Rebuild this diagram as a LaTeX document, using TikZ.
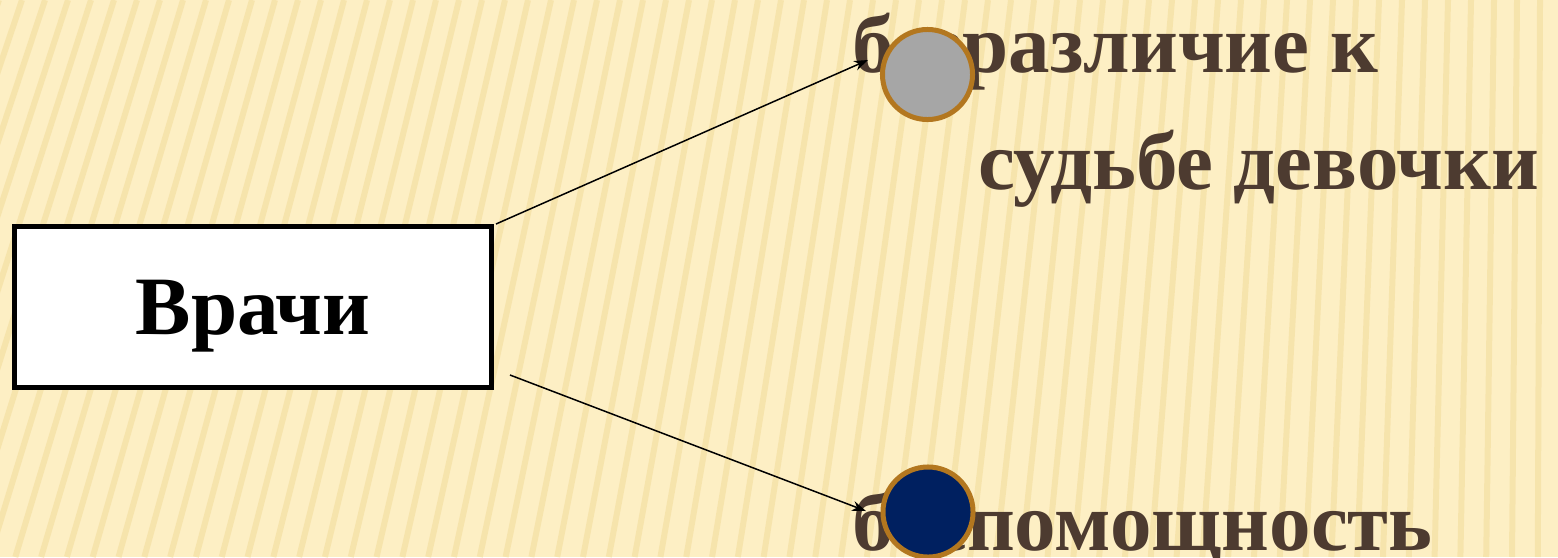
\documentclass[tikz,border=0pt]{standalone}
\usepackage{fontspec}
\setmainfont{Liberation Serif}
\usetikzlibrary{arrows.meta}

\definecolor{paper}{HTML}{FDEFC4}
\definecolor{stripe}{HTML}{F2DB9A}
\definecolor{brownText}{HTML}{4D3B30}
\definecolor{ringColor}{HTML}{B3771F}
\definecolor{greyDot}{HTML}{A6A6A6}
\definecolor{navyDot}{HTML}{002060}

\tikzset{
  label/.style={inner sep=0mm,outer sep=0mm,font=\fontsize{23.6}{33}\selectfont\bfseries,text=brownText},
  dot/.style={circle,inner sep=0mm,minimum size=0.9cm,line width=0.05cm,draw=ringColor}
}

\begin{document}
\begin{tikzpicture}[x=0.01cm,y=-0.01cm]
          \useasboundingbox (0,0) rectangle (1558,557);
          \fill [paper] (0,0) rectangle (1558,557);
          \begin{scope}
            \clip (0,0) rectangle (1558,557);
            \foreach \x in {-300,-277,...,1600} {
              \pgfmathsetmacro{\shift}{190*(1-\x/1558)}
              \draw [stripe,line width=0.06cm,opacity=0.55] (\x,0) -- (\x-\shift,557);
            }
          \end{scope}
          \node (doctors) [draw,line width=0.05cm,fill=white,rectangle,minimum width=4.77cm,minimum height=1.61cm,text height=0.55cm,text depth=0cm,font=\fontsize{23.6}{28}\selectfont\bfseries] at (253,307) {Врачи};
          \node (indifference) [label,anchor=base west,align=left] at (852,189) {безразличие к\\\hspace*{1.26cm}судьбе девочки};
          \node (helplessness) [label,anchor=base west] at (852,550) {беспомощность};
          \coordinate (upperStart) at (496,224);
          \coordinate (upperEnd) at (868,60);
          \coordinate (lowerStart) at (510,375);
          \coordinate (lowerEnd) at (866,511);
          \draw [-{Stealth[length=0.14cm,width=0.1cm]},line width=0.015cm] (upperStart) to (upperEnd);
          \draw [-{Stealth[length=0.14cm,width=0.1cm]},line width=0.015cm] (lowerStart) to (lowerEnd);
          \node (greyMark) [dot,fill=greyDot] at (927.5,74.5) {};
          \node (navyMark) [dot,fill=navyDot] at (928,512) {};
        \end{tikzpicture}
\end{document}
